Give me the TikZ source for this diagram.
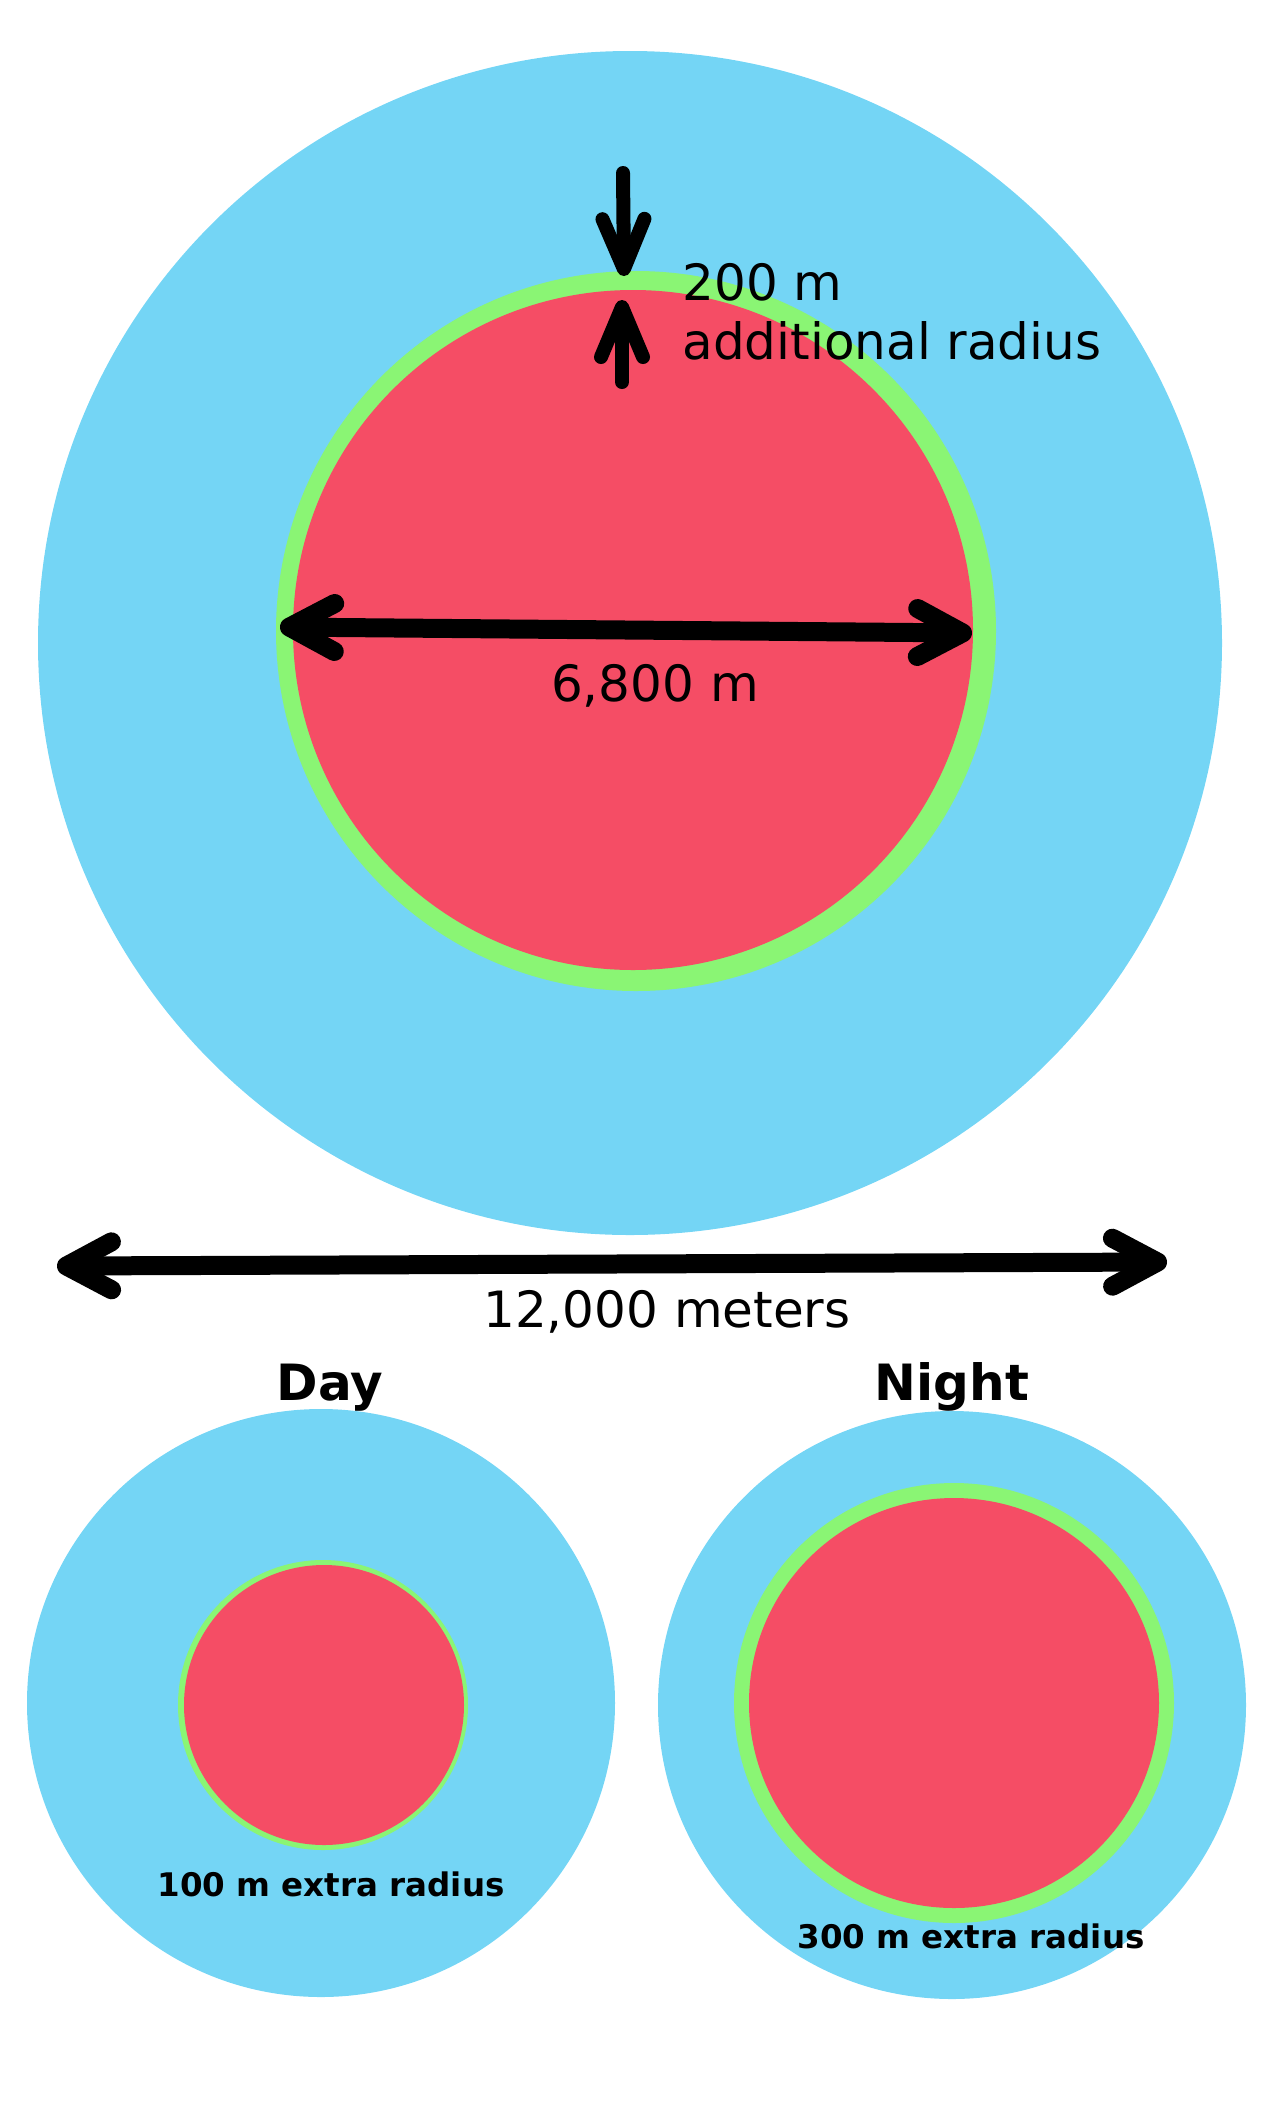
\documentclass[tikz,border=0pt]{standalone}
\usepackage{fontspec}
\setmainfont{DejaVu Sans}
\usetikzlibrary{arrows.meta}

\definecolor{skyzone}{HTML}{74D5F5}
\definecolor{corezone}{HTML}{F54D65}
\definecolor{edgezone}{HTML}{8AF574}

\tikzset{
  bigfont/.style={font=\fontsize{50}{60}\selectfont},
  headfont/.style={font=\fontsize{50}{60}\selectfont\bfseries},
  notefont/.style={font=\fontsize{32.5}{38}\selectfont\bfseries},
  thinarrow/.style={line width=14pt, line cap=round,
    arrows={-Straight Barb[length=50pt, width=42pt, round]}},
  widearrow/.style={line width=19pt, line cap=round,
    arrows={Straight Barb[length=45pt, width=48pt, round]-Straight Barb[length=45pt, width=48pt, round]}}
}

\begin{document}
\begin{tikzpicture}[x=1pt, y=-1pt]
    \useasboundingbox (0,0) rectangle (1282,2118);

    % main zone
    \fill[skyzone] (630,643) circle[radius=592pt];
    \fill[edgezone] (636,631) circle[radius=360pt];
    \fill[corezone] (633,630) circle[radius=340pt];

    \coordinate (downstart) at (623,173);
    \coordinate (downtip) at (624,276);
    \coordinate (upstart) at (622,382);
    \coordinate (uptip) at (622,300);
    \draw[thinarrow] (downstart) -- (downtip);
    \draw[thinarrow] (upstart) -- (uptip);
    \node[bigfont, anchor=base west] (extra) at (679,300) {200 m};
    \node[bigfont, anchor=base west] (extralbl) at (679,359) {additional radius};

    \coordinate (coreleft) at (280,627);
    \coordinate (coreright) at (972,633);
    \draw[widearrow] (coreleft) -- (coreright);
    \node[bigfont, anchor=base] (corelbl) at (655,701) {6,800 m};

    \coordinate (zoneleft) at (57,1266);
    \coordinate (zoneright) at (1167,1262);
    \draw[widearrow] (zoneleft) -- (zoneright);
    \node[bigfont, anchor=base] (zonelbl) at (667,1327) {12,000 meters};

    % day
    \node[headfont, anchor=base] (day) at (330,1400) {Day};
    \fill[skyzone] (321,1703) circle[radius=294pt];
    \fill[edgezone] (323,1705) circle[radius=145pt];
    \fill[corezone] (324,1705) circle[radius=140pt];
    \node[notefont, anchor=base] (daylbl) at (331,1896) {100 m extra radius};

    % night
    \node[headfont, anchor=base] (night) at (952,1400) {Night};
    \fill[skyzone] (952,1705) circle[radius=294pt];
    \fill[edgezone] (954,1703) circle[radius=220pt];
    \fill[corezone] (954,1703) circle[radius=205pt];
    \node[notefont, anchor=base] (nightlbl) at (971,1948) {300 m extra radius};
\end{tikzpicture}
\end{document}
